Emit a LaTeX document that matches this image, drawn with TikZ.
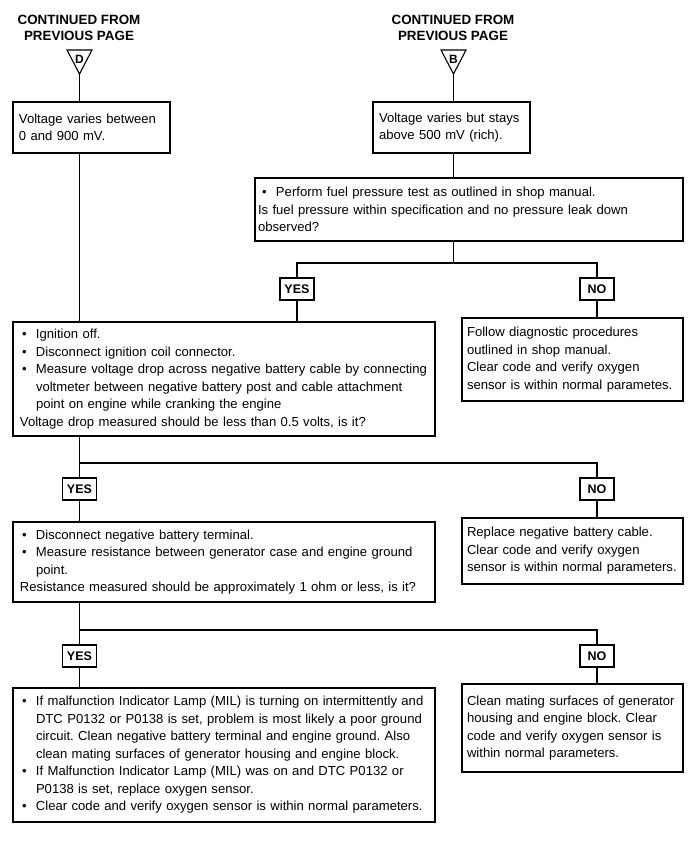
\documentclass[tikz,border=0pt]{standalone}
\usepackage{fontspec}
\setmainfont{Liberation Sans}
\usetikzlibrary{positioning}

\newcommand\boxfont{\fontsize{13.1}{17.5}\selectfont\frenchspacing}
\newcommand\hdfont{\fontsize{13.4}{16}\selectfont\bfseries}
\newcommand\bul[1][7pt]{\hspace*{#1}\makebox[14pt][l]{\textbullet}}
\newcommand\ind{\hspace*{21pt}}
\newcommand\pl{\hspace*{5pt}}

\begin{document}
\begin{tikzpicture}[x=1pt,y=-1pt,line width=1.1pt,
  box/.style={draw,inner xsep=2pt,inner ysep=3pt,align=left,font=\boxfont},
  small/.style={box,inner xsep=6pt},
  answer/.style={draw,font=\bfseries\fontsize{12.5}{14}\selectfont,minimum width=34pt,minimum height=22pt,inner sep=1pt},
  header/.style={align=center,font=\hdfont},
  conn/.style={font=\bfseries\fontsize{12}{13}\selectfont,inner sep=0pt}]
  \useasboundingbox (0,0) rectangle (700,844);

  % page connectors
  \node[header] (hdD) at (79,28) {CONTINUED FROM\\PREVIOUS PAGE};
  \node[header] (hdB) at (453,28) {CONTINUED FROM\\PREVIOUS PAGE};
  \draw (67,50) -- (92,50) -- (79.5,74) -- cycle;
  \draw (441,50) -- (466,50) -- (453.5,74) -- cycle;
  \node[conn] (D) at (79.5,59) {D};
  \node[conn] (B) at (453.5,59) {B};
  \coordinate (tipD) at (79.5,74);
  \coordinate (tipB) at (453.5,74);

  % boxes
  \node[small,text width=145pt,minimum height=51pt] (vary) at (91.5,127.5)
    {Voltage varies between\\0 and 900 mV.};
  \node[small,text width=145pt,minimum height=51pt] (rich) at (451.5,127.5)
    {Voltage varies but stays\\above 500 mV (rich).};
  \node[box,text width=424pt,minimum height=63pt] (fuel) at (469,209.5)
    {\bul[5pt]Perform fuel pressure test as outlined in shop manual.\\
     \hspace*{1pt}Is fuel pressure within specification and no pressure leak down\\
     \hspace*{1pt}observed?};
  \node[box,text width=418pt,minimum height=114pt] (drop) at (224,379)
    {\bul Ignition off.\\
     \bul Disconnect ignition coil connector.\\
     \bul Measure voltage drop across negative battery cable by connecting\\
     \ind voltmeter between negative battery post and cable attachment\\
     \ind point on engine while cranking the engine\\
     \pl Voltage drop measured should be less than 0.5 volts, is it?};
  \node[small,inner xsep=5pt,text width=211pt,minimum height=83pt] (diag) at (572.5,359.5)
    {Follow diagnostic procedures\\outlined in shop manual.\\Clear code and verify oxygen\\sensor is within normal parametes.};
  \node[box,text width=418pt,minimum height=80pt] (resist) at (224,562)
    {\bul Disconnect negative battery terminal.\\
     \bul Measure resistance between generator case and engine ground\\
     \ind point.\\
     \pl Resistance measured should be approximately 1 ohm or less, is it?};
  \node[small,inner xsep=5pt,text width=211pt,minimum height=66pt] (cable) at (572.5,551)
    {Replace negative battery cable.\\Clear code and verify oxygen\\sensor is within normal parameters.};
  \node[box,text width=418pt,minimum height=134pt] (ground) at (224,755)
    {\bul If malfunction Indicator Lamp (MIL) is turning on intermittently and\\
     \ind DTC P0132 or P0138 is set, problem is most likely a poor ground\\
     \ind circuit. Clean negative battery terminal and engine ground. Also\\
     \ind clean mating surfaces of generator housing and engine block.\\
     \bul If Malfunction Indicator Lamp (MIL) was on and DTC P0132 or\\
     \ind P0138 is set, replace oxygen sensor.\\
     \bul Clear code and verify oxygen sensor is within normal parameters.};
  \node[small,inner xsep=5pt,text width=211pt,minimum height=88pt] (mating) at (572.5,728)
    {Clean mating surfaces of generator\\housing and engine block. Clear\\code and verify oxygen sensor is\\within normal parameters.};

  % yes / no
  \node[answer] (yes1) at (297,289) {YES};
  \node[answer] (no1) at (597,289) {NO};
  \node[answer] (yes2) at (79.5,489) {YES};
  \node[answer] (no2) at (597,489) {NO};
  \node[answer] (yes3) at (79.5,656) {YES};
  \node[answer] (no3) at (597,656) {NO};
  \coordinate (j1) at (453.5,263);
  \coordinate (j2) at (79.5,463);
  \coordinate (j3) at (79.5,630);

  % lines
  \draw (tipD) -- (tipD |- vary.north);
  \draw (tipB) -- (tipB |- rich.north);
  \draw (rich.south -| tipB) -- (tipB |- fuel.north);
  \draw (fuel.south -| j1) -- (j1);
  \draw (yes1.north) |- (j1) -| (no1.north);
  \draw (yes1.south) -- (yes1.south |- drop.north);
  \draw (no1.south) -- (no1.south |- diag.north);
  \draw (vary.south -| tipD) -- (tipD |- drop.north);
  \draw (drop.south -| j2) -- (yes2.north);
  \draw (j2) -| (no2.north);
  \draw (yes2.south) -- (yes2.south |- resist.north);
  \draw (no2.south) -- (no2.south |- cable.north);
  \draw (resist.south -| j3) -- (yes3.north);
  \draw (j3) -| (no3.north);
  \draw (yes3.south) -- (yes3.south |- ground.north);
  \draw (no3.south) -- (no3.south |- mating.north);
\end{tikzpicture}
\end{document}
